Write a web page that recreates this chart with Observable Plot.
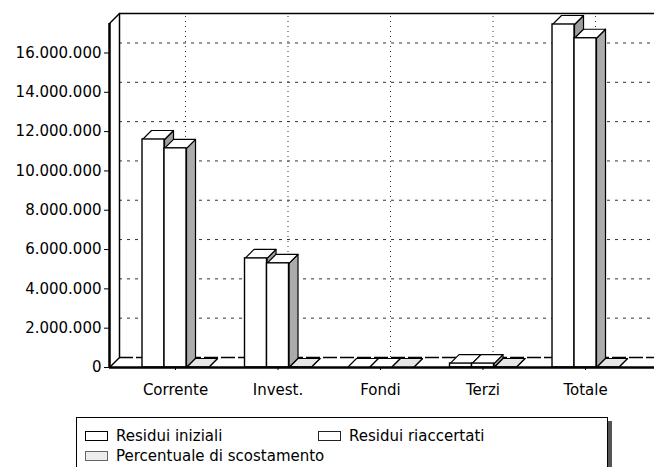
<!DOCTYPE html>
<html>
<head>
<meta charset="utf-8">
<script src="https://cdn.jsdelivr.net/npm/d3@7"></script>
<script src="https://cdn.jsdelivr.net/npm/@observablehq/plot@0.6"></script>
<style>
  html, body { margin: 0; padding: 0; background: #fff; }
  #legend {
    position: relative; margin-left: 76px; margin-top: 17px;
    width: 530px; height: 60px; border: 1px solid #000;
    box-shadow: 4px 4px 0 #555; font: 15px "DejaVu Sans", sans-serif; color: #000;
  }
  .item { position: absolute; display: flex; align-items: center; white-space: nowrap; }
  .sw { display: inline-block; width: 21px; height: 8px; border: 1.5px solid #000; margin-right: 8px; }
</style>
</head>
<body>
<div id="chart"></div>
<div id="legend"></div>
<script>
const categories = ["Corrente", "Invest.", "Fondi", "Terzi", "Totale"];
const residuiIniziali = [11600000, 5550000, 0, 200000, 17450000];
const residuiRiaccertati = [11150000, 5300000, 0, 200000, 16750000];
const percentualeScostamento = [4, 5, 0, 2, 4];
const seriesNames = ["Residui iniziali", "Residui riaccertati", "Percentuale di scostamento"];
const yTicks = [0, 2000000, 4000000, 6000000, 8000000, 10000000, 12000000, 14000000, 16000000];

// layout
const W = 654, H = 400, mL = 109, mR = 0, mT = 23, mB = 33;
const xDom = [-0.644, 4.673], yDom = [0, 17500000];
const pxX = (W - mL - mR) / (xDom[1] - xDom[0]);
const pxY = (H - mT - mB) / (yDom[1] - yDom[0]);
const groupW = 0.644, barW = groupW / 3;
const bdx = 9 / pxX, bdy = 9 / pxY;   // bar depth
const wdx = 10 / pxX, wdy = 10 / pxY; // wall depth

const seriesValues = [residuiIniziali, residuiRiaccertati, percentualeScostamento];
const sideFill = ["#9c9c9c", "#ababab", "#d8d8d8"];
const topFill = ["#ffffff", "#ffffff", "#e6e6e6"];
const frontFill = ["#ffffff", "#ffffff", "#ececec"];

const bars = [];
categories.forEach((c, i) => {
  seriesValues.forEach((vals, k) => {
    const x1 = i - groupW / 2 + k * barW;
    bars.push({cat: c, k, x1, x2: x1 + barW, v: vals[i]});
  });
});
const tops = [], sides = [];
bars.forEach((b, j) => {
  const id = j;
  [[b.x1, b.v], [b.x2, b.v], [b.x2 + bdx, b.v + bdy], [b.x1 + bdx, b.v + bdy]]
    .forEach(([x, y]) => tops.push({id, k: b.k, x, y}));
  [[b.x2, 0], [b.x2, b.v], [b.x2 + bdx, b.v + bdy], [b.x2 + bdx, bdy]]
    .forEach(([x, y]) => sides.push({id, k: b.k, x, y}));
});

const fmt = d => d3.format(",")(d).replace(/,/g, ".");

const chart = Plot.plot({
  width: W, height: H,
  marginLeft: mL, marginRight: mR, marginTop: mT, marginBottom: mB,
  style: {fontFamily: "DejaVu Sans", fontSize: "15px", color: "#000", background: "#fff"},
  x: {domain: xDom, axis: null},
  y: {domain: yDom, axis: null},
  marks: [
    // back wall grid
    Plot.ruleY(yTicks.filter(d => d > 0), {dx: 10, dy: -10, stroke: "#000", strokeDasharray: "3,5", strokeOpacity: 0.8}),
    Plot.ruleX([0, 1, 2, 3, 4], {y1: yDom[0], y2: yDom[1], dx: 10, dy: -10, stroke: "#000", strokeDasharray: "1,4", strokeOpacity: 0.8}),
    // floor back line, back-wall edges
    Plot.ruleY([0], {dx: 10, dy: -10, stroke: "#000", strokeWidth: 1.5, strokeDasharray: "14,3"}),
    Plot.ruleX([xDom[0]], {y1: yDom[0], y2: yDom[1], dx: 10, dy: -10, stroke: "#000", strokeWidth: 1.5}),
    Plot.ruleY([yDom[1]], {dx: 10, dy: -10, stroke: "#000", strokeWidth: 1.5}),
    Plot.link([yDom[0], yDom[1]], {x1: () => xDom[0], y1: d => d, x2: () => xDom[0] + wdx, y2: d => d + wdy, stroke: "#000", strokeWidth: 1.5}),
    // bars: sides, tops, fronts
    Plot.line(sides, {x: "x", y: "y", z: "id", curve: "linear-closed", fill: d => sideFill[d.k], stroke: "#000", strokeWidth: 1.2}),
    Plot.line(tops, {x: "x", y: "y", z: "id", curve: "linear-closed", fill: d => topFill[d.k], stroke: "#000", strokeWidth: 1.2}),
    Plot.rect(bars, {x1: "x1", x2: "x2", y1: 0, y2: "v", fill: d => frontFill[d.k], stroke: "#000", strokeWidth: 1.4}),
    // front axes
    Plot.ruleX([xDom[0]], {y1: yDom[0], y2: yDom[1], stroke: "#000", strokeWidth: 2.5}),
    Plot.ruleY([0], {stroke: "#000", strokeWidth: 2.5}),
    Plot.axisY(yTicks, {tickFormat: fmt, tickSize: 5, tickPadding: 3, fontSize: 15}),
    Plot.axisX([0, 1, 2, 3, 4], {tickFormat: i => categories[i], tickSize: 3, tickPadding: 14, fontSize: 15})
  ]
});
document.getElementById("chart").appendChild(chart);

// legend
const legend = document.getElementById("legend");
const swStyles = [
  "background:#fff;border-color:#000",
  "background:#fff;border-color:#222",
  "background:#ececec;border-color:#666"
];
const pos = [[8, 9], [241, 9], [8, 29]];
seriesNames.forEach((name, k) => {
  const it = document.createElement("div");
  it.className = "item";
  it.style.left = pos[k][0] + "px";
  it.style.top = pos[k][1] + "px";
  it.innerHTML = `<span class="sw" style="${swStyles[k]}"></span><span>${name}</span>`;
  legend.appendChild(it);
});
</script>
</body>
</html>
